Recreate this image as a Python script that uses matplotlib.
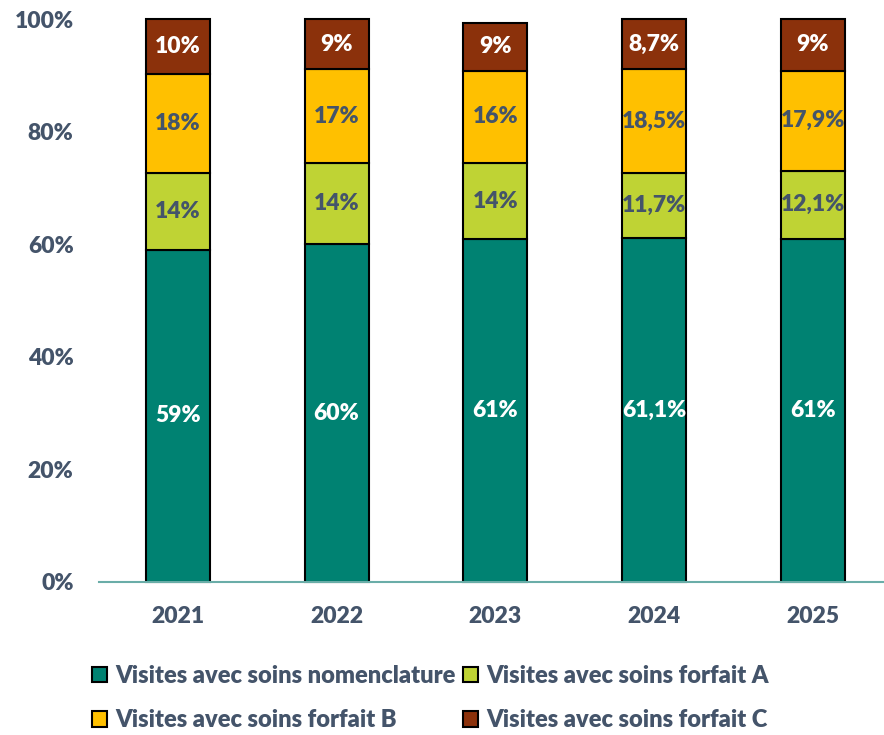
import numpy as np
import matplotlib.pyplot as plt
from matplotlib.patches import Patch

plt.rcParams['font.family'] = 'Lato'
plt.rcParams['font.weight'] = 'heavy'

annees = ['2021', '2022', '2023', '2024', '2025']
series = ['Visites avec soins nomenclature', 'Visites avec soins forfait A',
          'Visites avec soins forfait B', 'Visites avec soins forfait C']

# hauteurs (en %)
nomenclature = [59.0, 60.0, 60.9, 61.1, 61.0]
forfait_a = [13.6, 14.4, 13.5, 11.5, 12.0]
forfait_b = [17.6, 16.7, 16.4, 18.5, 17.8]
forfait_c = [9.8, 8.9, 8.5, 8.9, 9.2]

# etiquettes affichees
lab_nom = ['59%', '60%', '61%', '61,1%', '61%']
lab_a = ['14%', '14%', '14%', '11,7%', '12,1%']
lab_b = ['18%', '17%', '16%', '18,5%', '17,9%']
lab_c = ['10%', '9%', '9%', '8,7%', '9%']

couleurs = ['#008272', '#BFD334', '#FFC000', '#8B310B']
coul_txt = ['white', '#44546A', '#44546A', 'white']
gris = '#44546A'
poids = 'heavy'

fig = plt.figure(figsize=(8.84, 7.35), dpi=100)
ax = fig.add_axes([98.6 / 884, 153 / 735, 1 - 98.6 / 884, 563 / 735])

x = np.arange(len(annees))
bas = np.zeros(len(annees))
valeurs = [nomenclature, forfait_a, forfait_b, forfait_c]
etiquettes = [lab_nom, lab_a, lab_b, lab_c]
for vals, labs, c, ct in zip(valeurs, etiquettes, couleurs, coul_txt):
    vals = np.array(vals)
    barres = ax.bar(x, vals, bottom=bas, width=0.403, color=c,
                    edgecolor='black', linewidth=1.5, zorder=3)
    for b in barres:
        b.set_clip_on(False)
    for xi, v, y0, t in zip(x, vals, bas, labs):
        ax.text(xi, y0 + v / 2, t, ha='center', va='center', color=ct,
                fontsize=16.5, fontweight=poids, zorder=4)
    bas = bas + vals

ax.set_xlim(-0.5, 4.45)
ax.set_ylim(0, 100)
ax.set_xticks(x)
ax.set_xticklabels(annees, fontweight=poids)
ax.set_yticks(np.arange(0, 101, 20))
ax.set_yticklabels([f'{v}%' for v in range(0, 101, 20)], fontweight=poids)
ax.tick_params(length=0, labelsize=16.5, labelcolor=gris)
ax.tick_params(axis='x', pad=17)
ax.tick_params(axis='y', pad=18)
for s in ['top', 'right', 'left']:
    ax.spines[s].set_visible(False)
ax.spines['bottom'].set_color('#6AADA8')
ax.spines['bottom'].set_linewidth(1.5)
ax.spines['bottom'].set_zorder(5)

handles = [Patch(facecolor=c, edgecolor='black', linewidth=1.5) for c in couleurs]
ordre = [0, 2, 1, 3]
leg = fig.legend([handles[i] for i in ordre], [series[i] for i in ordre],
                 ncol=2, loc='upper left', bbox_to_anchor=(80 / 884, 1 - 653 / 735),
                 frameon=False, prop={'family': 'Lato', 'weight': poids, 'size': 17},
                 handlelength=0.65, handleheight=0.65,
                 handletextpad=0.35, columnspacing=0.3, labelspacing=0.95,
                 borderpad=0)
for t in leg.get_texts():
    t.set_color(gris)

fig.savefig('out.png', dpi=100)
